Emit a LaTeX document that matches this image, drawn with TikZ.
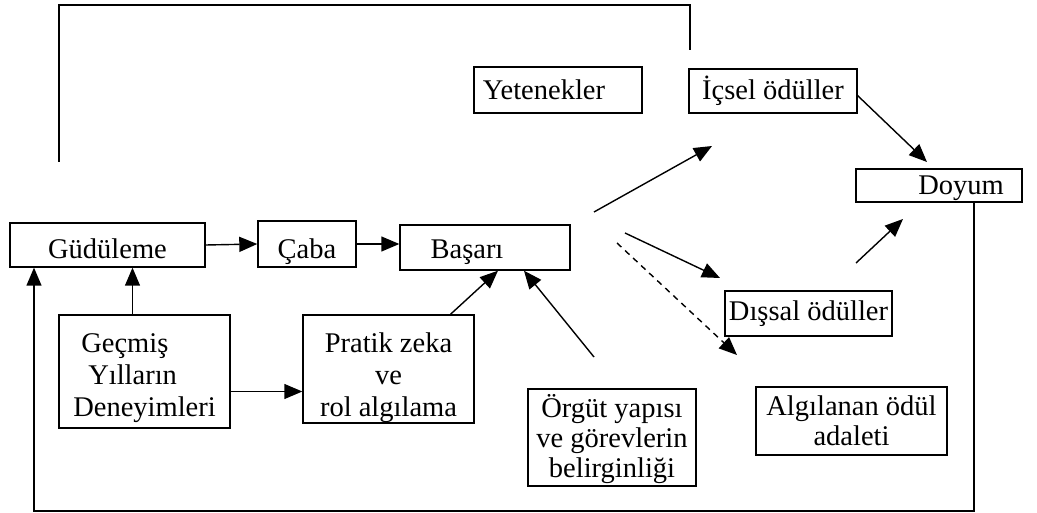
\documentclass[tikz,border=0pt]{standalone}
\usepackage{fontspec}
\setmainfont{Liberation Serif}
\usetikzlibrary{arrows.meta, positioning, calc}

\begin{document}
\begin{tikzpicture}[
    x=1pt, y=-1pt,
    >={Triangle[length=18pt, width=15pt]},
    box/.style={draw, line width=1.4pt, inner sep=0pt, align=center,
                font=\fontsize{28.5}{32}\selectfont},
    one/.style={text height=#1, text depth=0pt},
    arrow/.style={->, line width=1.4pt},
    link/.style={line width=1.4pt},
]
\useasboundingbox (0,0) rectangle (1037,513);

% kutular
\node[box, one=20pt, minimum width=168pt, minimum height=46pt] (yet) at (558,90)
    {Yetenekler\hspace*{28pt}};
\node[box, one=18pt, minimum width=168pt, minimum height=44pt] (ics) at (773,91)
    {İçsel ödüller};
\node[box, one=19pt, minimum width=166pt, minimum height=33pt] (doy) at (939,185.5)
    {\hspace*{44pt}Doyum};
\node[box, one=28pt, minimum width=195pt, minimum height=44pt] (gud) at (107.5,245)
    {Güdüleme};
\node[box, one=30pt, minimum width=98pt, minimum height=46pt] (cab) at (307,244)
    {Çaba};
\node[box, one=23pt, minimum width=170pt, minimum height=45pt] (bas) at (485,247.5)
    {Başarı\hspace*{36pt}};
\node[box, align=left, minimum width=171pt, minimum height=113pt] (gec) at (144.5,371.5)
    {\rule{0pt}{31.7pt}\hspace*{8pt}Geçmiş\\\hspace*{15pt}Yılların\\Deneyimleri};
\node[box, minimum width=171pt, minimum height=108pt] (pra) at (388.5,369)
    {\rule{0pt}{36.2pt}Pratik zeka\\ve\\rol algılama};
\node[box, font=\fontsize{28.5}{30}\selectfont, minimum width=168pt, minimum height=97pt] (org) at (612,437.5)
    {\rule{0pt}{25.2pt}Örgüt yapısı\\ve görevlerin\\belirginliği};
\node[box, font=\fontsize{28.5}{30}\selectfont, minimum width=191pt, minimum height=68pt] (alg) at (851.5,421)
    {\rule{0pt}{20pt}Algılanan ödül\\adaleti};
\node[box, one=13pt, minimum width=167pt, minimum height=45pt] (dis) at (808.5,313.5)
    {Dışsal ödüller};

% serbest uçlar
\coordinate (topL) at (59,162);
\coordinate (topR) at (690,50);
\coordinate (basIcs) at (594,212);
\coordinate (icsTip) at (712,146);
\coordinate (basDis) at (625,233);
\coordinate (disTip) at (720,278);
\coordinate (basAlg) at (617,243);
\coordinate (algTip) at (737,355);
\coordinate (disDoy) at (856,263);
\coordinate (doyTip) at (903,219);
\coordinate (icsDoy) at (857,95);
\coordinate (doyTop) at (927,162);
\coordinate (orgTop) at (594,357);
\coordinate (fbl) at (34,511);

% oklar
\draw[arrow] (gud.east) -- (cab.west);
\draw[arrow] (cab.east) -- (cab.east -| bas.west);
\draw[arrow] ([xshift=-12pt]gec.north) -- ([xshift=-12pt]gec.north |- gud.south);
\draw[arrow] ([yshift=-20pt]gec.east) -- ([yshift=-20pt]gec.east -| pra.west);
\draw[arrow] ([xshift=62pt]pra.north) -- ([xshift=13pt]bas.south);
\draw[arrow] (orgTop) -- ([xshift=39pt]bas.south);
\draw[arrow] (basIcs) -- (icsTip);
\draw[arrow] (basDis) -- (disTip);
\draw[arrow, dash pattern=on 6pt off 5pt] (basAlg) -- (algTip);
\draw[arrow] (icsDoy) -- (doyTop);
\draw[arrow] (disDoy) -- (doyTip);

% geri besleme
\draw[link] (topL) -- (59,5) -| (topR);
\draw[arrow] ([xshift=35pt]doy.south) |- (fbl) -- (fbl |- gud.south);

\end{tikzpicture}
\end{document}
